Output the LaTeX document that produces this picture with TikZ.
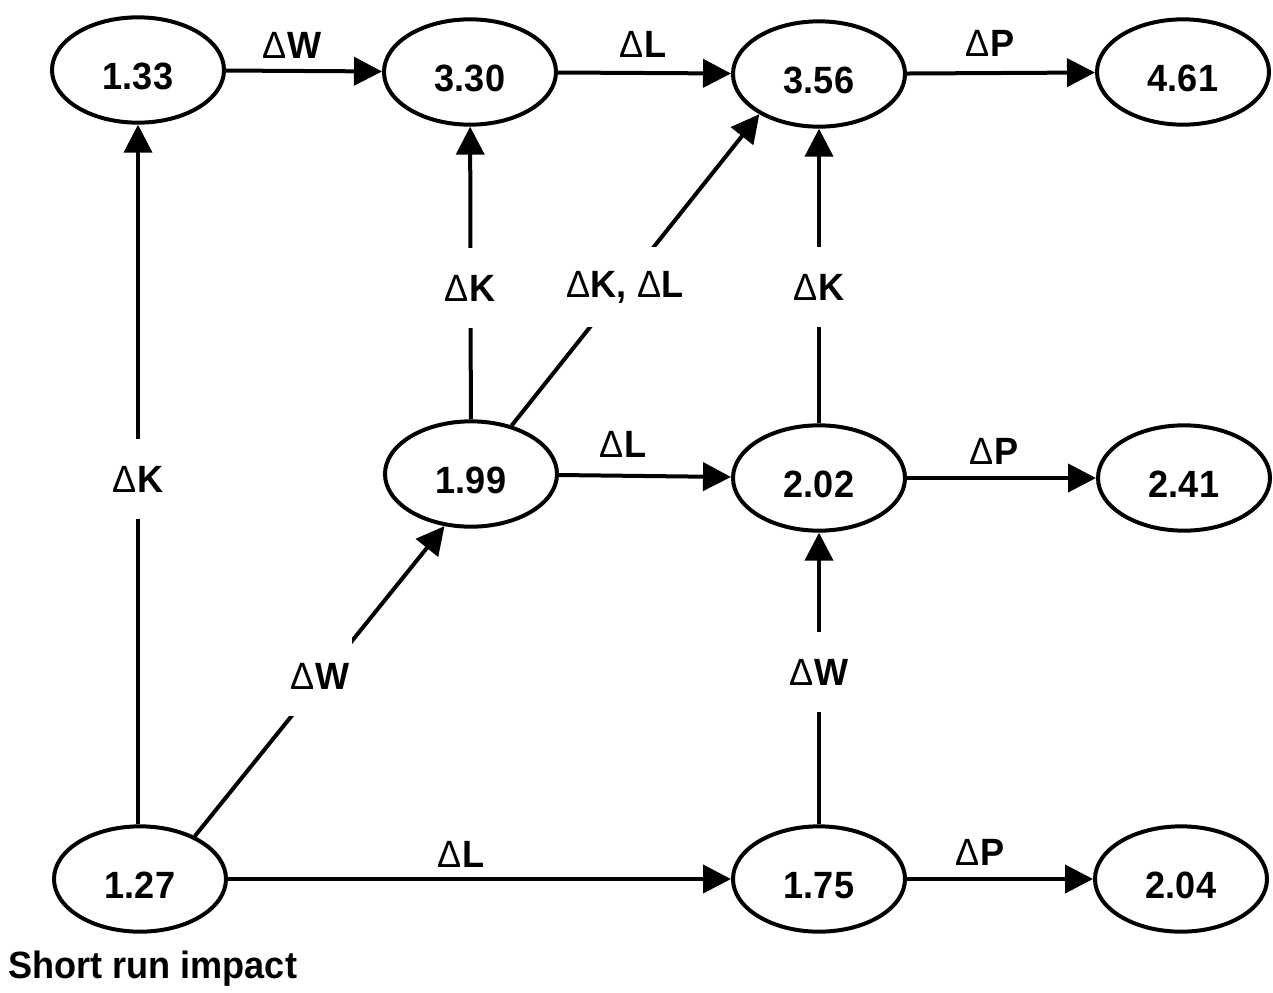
\documentclass[tikz,border=0pt]{standalone}
\usepackage{fontspec}
\setmainfont[FakeStretch=0.95]{Liberation Sans}
\usetikzlibrary{arrows.meta,shapes.geometric}
\newcommand\dlt{{\mdseries Δ}}
\newcommand\nv[1]{\raisebox{-5pt}[\height][\depth]{#1}}
\begin{document}
\begin{tikzpicture}[x=0.75pt,y=-0.75pt,
  every node/.style={font=\fontsize{28.5}{33}\selectfont\bfseries},
  val/.style={ellipse, draw, line width=3pt, minimum width=129pt, minimum height=79pt, inner sep=0pt},
  conn/.style={line width=3pt, -{Triangle[length=21pt,width=21pt]}},
  cut/.style={fill=white, inner sep=2pt, minimum height=60pt},
  lab/.style={inner sep=0pt}]
\path[use as bounding box] (0,0) rectangle (1273,992);
% value nodes
\node[val] (n133) at (138,70) {\nv{1.33}};
\node[val] (n330) at (470,72) {\nv{3.30}};
\node[val] (n356) at (819,74) {\nv{3.56}};
\node[val] (n461) at (1183,72) {\nv{4.61}};
\node[val] (n199) at (471,474) {\nv{1.99}};
\node[val] (n202) at (819,478) {\nv{2.02}};
\node[val] (n241) at (1184,478) {\nv{2.41}};
\node[val] (n127) at (140,879) {\nv{1.27}};
\node[val] (n175) at (819,879) {\nv{1.75}};
\node[val] (n204) at (1181,879) {\nv{2.04}};
% connectors
\draw[conn] (n127.north -| n133) -- (n133);
\draw[conn] (n133) -- (n330);
\draw[conn] (n330) -- (n356);
\draw[conn] (n356) -- (n461);
\draw[conn] (n199) -- (n330);
\draw[conn] (n199.50) -- (n356.214);
\draw[conn] (n202) -- (n356);
\draw[conn] (n199) -- (n202);
\draw[conn] (n202) -- (n241);
\draw[conn] (n127.38) -- (n199.243);
\draw[conn] (n175) -- (n202);
\draw[conn] (n127) -- (n175);
\draw[conn] (n175) -- (n204);
% labels that interrupt lines
\node[cut] (kA) at (138,479) {\dlt K};
\node[cut] (kB) at (470,288) {\dlt K};
\node[cut] (kL) at (625,287) {\dlt K, \dlt L};
\node[cut] (kC) at (819,287) {\dlt K};
\node[cut] (wA) at (320,676) {\dlt W};
\node[cut] (wB) at (819,672) {\dlt W};
% labels above arrows
\node[lab] (w1) at (292,45) {\dlt W};
\node[lab] (l1) at (643,44) {\dlt L};
\node[lab] (p1) at (990,43) {\dlt P};
\node[lab] (l2) at (623,444) {\dlt L};
\node[lab] (p2) at (994,451) {\dlt P};
\node[lab] (l3) at (461,854) {\dlt L};
\node[lab] (p3) at (980,852) {\dlt P};
\node[anchor=west, inner sep=0pt] (sr) at (8,969) {Short run impact};
\end{tikzpicture}
\end{document}
